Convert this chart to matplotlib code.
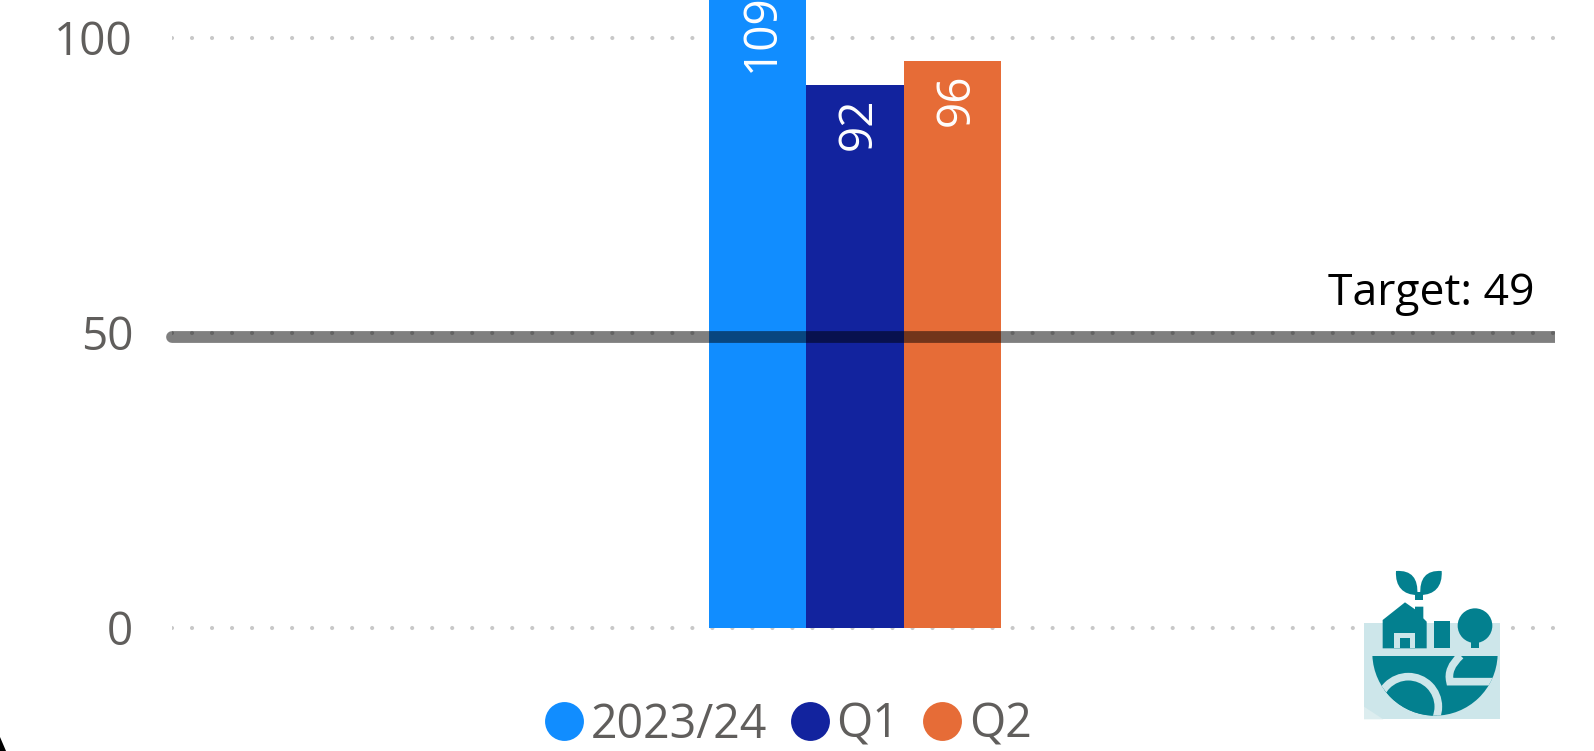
import matplotlib
matplotlib.use("Agg")
import matplotlib.pyplot as plt
from matplotlib.lines import Line2D
from matplotlib.patches import Circle, PathPatch, Polygon, Rectangle, Wedge
from matplotlib.path import Path
from matplotlib.transforms import Bbox, TransformedBbox

plt.rcParams['font.family'] = ['Open Sans', 'DejaVu Sans']
plt.rcParams['lines.scale_dashes'] = False

# Chart values
series = ['2023/24', 'Q1', 'Q2']
values = [109, 92, 96]
colors = ['#118dff', '#12239e', '#e66c37']
y_ticks = [0, 50, 100]
target_value = 49.3
target_label = 'Target: 49'

W, H = 1594, 751
fig = plt.figure(figsize=(W / 100, H / 100), dpi=100, facecolor='white')

# axes span the full height so the tallest bar runs off the top
left, right = 172, 1555
ax = fig.add_axes([left / W, 0, (right - left) / W, 1])
px_per_unit = 5.897
y0_px = 627.5
y_top = y0_px / px_per_unit
ax.set_ylim(-(H - y0_px) / px_per_unit, y_top)
bar_w = 97.3
center = 855
ax.set_xlim((left - center) / bar_w, (right - center) / bar_w)
ax.patch.set_alpha(0)

xs = [i - 1 for i in range(len(values))]
ax.bar(xs, values, width=1.0, color=colors, zorder=2)

# data labels, pushed back into view when the bar leaves the frame
for x, v in zip(xs, values):
    off = -9 if v <= y_top else 4.5
    ax.annotate(str(v), (x, min(v, y_top)), xytext=(3, off), textcoords='offset points',
                rotation=90, ha='center', va='top', color='white', fontsize=33,
                zorder=4, annotation_clip=False)

# dotted grid
ax.set_yticks(y_ticks)
ax.set_xticks([])
ax.set_axisbelow(True)
ax.grid(axis='y', color='#c8c8c8', linewidth=3, linestyle=(0, (0.01, 14.4)))
for g in ax.yaxis.get_gridlines():
    g.set_dash_capstyle('round')
ax.tick_params(axis='y', length=0, pad=28, labelsize=33, labelcolor='#605e5c')
for s in ax.spines.values():
    s.set_visible(False)

# target line, round cap on the left only
line = ax.axhline(target_value, color='black', alpha=0.5, linewidth=8.5,
                  solid_capstyle='round', zorder=3)
line.set_clip_box(TransformedBbox(Bbox([[-0.02, 0], [1, 1]]), ax.transAxes))
ax.annotate(target_label, (1, target_value), xycoords=('axes fraction', 'data'),
            xytext=(-14.5, 15), textcoords='offset points', ha='right', va='bottom',
            fontsize=32, color='black', zorder=4)

# legend
handles = [Line2D([], [], linestyle='none', marker='o', markersize=28,
                  markerfacecolor=c, markeredgecolor='none') for c in colors]
fig.legend(handles, series, loc='center', bbox_to_anchor=(789 / W, 1 - 725 / H),
           ncols=3, frameon=False, fontsize=33.5, labelcolor='#605e5c',
           handlelength=0.75, handletextpad=0.2, columnspacing=0.55,
           borderpad=0, borderaxespad=0)

# logo, drawn in the pixel grid of a 3x crop
logo = fig.add_axes([1300 / W, 1 - (540 + 211) / H, 294 / W, 211 / H])
logo.set_xlim(0, 882)
logo.set_ylim(633, 0)
logo.axis('off')
teal = '#03808f'
pale = '#cde6ea'
logo.add_patch(Rectangle((192, 248), 408, 290, color=pale, lw=0))
logo.add_patch(Polygon([(192, 500), (250, 538), (192, 538)], color='#dcedef', lw=0))
# leaves
C3, C4 = Path.CURVE3, Path.CURVE4
leaf_l = Path([(288, 93), (335, 90), (355, 115), (352, 165), (310, 165), (285, 140), (288, 93)],
              [Path.MOVETO, C4, C4, C4, C4, C4, C4])
leaf_r = Path([(425, 93), (378, 90), (358, 115), (361, 165), (403, 165), (428, 140), (425, 93)],
              [Path.MOVETO, C4, C4, C4, C4, C4, C4])
logo.add_patch(PathPatch(leaf_l, color=teal, lw=0))
logo.add_patch(PathPatch(leaf_r, color=teal, lw=0))
logo.add_patch(Rectangle((345, 155), 23, 25, color=teal, lw=0))
# house
logo.add_patch(Polygon([(248, 240), (315, 187), (345, 208), (345, 200), (370, 200),
                        (370, 235), (380, 245), (380, 325), (248, 325)],
                       color=teal, lw=0))
logo.add_patch(Rectangle((283, 280), 62, 45, color=pale, lw=0))
logo.add_patch(Rectangle((300, 293), 30, 32, color=teal, lw=0))
logo.add_patch(Rectangle((402, 243), 48, 82, color=teal, lw=0))
# tree
logo.add_patch(Circle((525, 257), 52, color=teal, lw=0))
logo.add_patch(Rectangle((513, 290), 25, 33, color=teal, lw=0))
# ground, centre sits above the flat top so the bowl is a bit shallower
ground = Wedge((405, 339), 188, 2.4, 177.6, color=teal, lw=0)
logo.add_patch(ground)
logo.add_patch(Rectangle((210, 330), 390, 17, color=pale, lw=0))
hill = Circle((325, 500), 90, facecolor=teal, edgecolor=pale, linewidth=5.5)
logo.add_patch(hill)
hill.set_clip_path(ground)
road = Path([(482, 347), (440, 385), (450, 425), (500, 425), (580, 425)],
            [Path.MOVETO, C3, C3, Path.LINETO, Path.LINETO])
road_patch = PathPatch(road, facecolor='none', edgecolor=pale, linewidth=5.5)
logo.add_patch(road_patch)
road_patch.set_clip_path(ground)

# black rounded corner from the screenshot edge
corner = fig.add_axes([0, 0, 12 / W, 16 / H])
corner.set_xlim(0, 12)
corner.set_ylim(16, 0)
corner.axis('off')
corner.add_patch(Polygon([(0, 2), (6, 16), (0, 16)], color='black', lw=0))

fig.savefig('out.png', dpi=100, facecolor='white')
